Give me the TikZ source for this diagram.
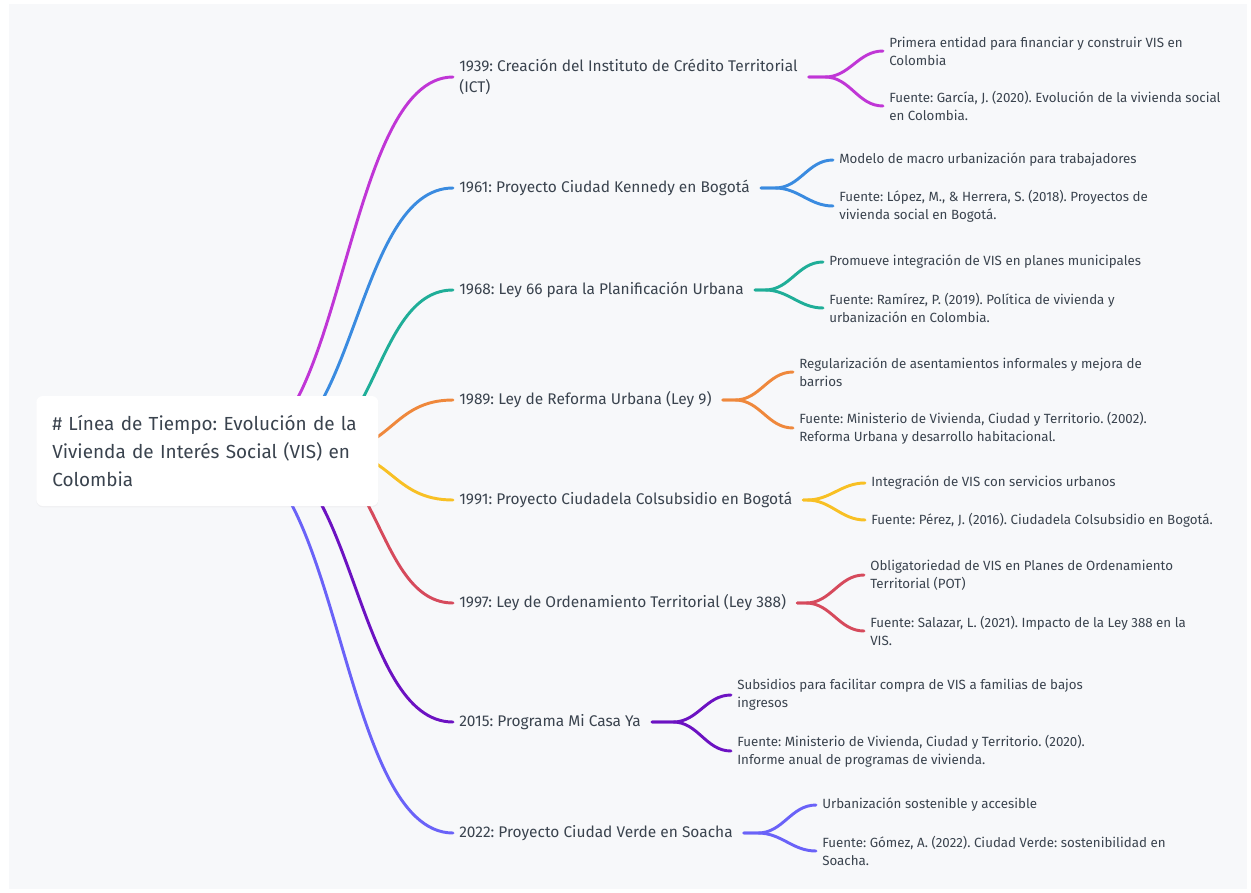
\documentclass[tikz,border=0pt]{standalone}
\usepackage{fontspec}
\setmainfont{Fira Sans}
\frenchspacing
\usetikzlibrary{calc,shadows}
\definecolor{txt}{HTML}{3A434E}
\definecolor{bgc}{HTML}{F7F8FA}
\definecolor{cA}{HTML}{C036D6}
\definecolor{cB}{HTML}{3A8BE0}
\definecolor{cC}{HTML}{1FAE98}
\definecolor{cD}{HTML}{EF883C}
\definecolor{cE}{HTML}{F8C024}
\definecolor{cF}{HTML}{D64A5C}
\definecolor{cG}{HTML}{6C12C2}
\definecolor{cH}{HTML}{6A62F8}
\pgfdeclarelayer{bg}
\pgfdeclarelayer{links}
\pgfsetlayers{bg,links,main}
\tikzset{
  rootbox/.style={draw=none, fill=white, rounded corners=5pt, anchor=west,
    minimum width=256.5pt, minimum height=82.5pt, text width=232.5pt,
    inner xsep=12pt, inner ysep=0pt, align=left, text=txt,
    font=\fontsize{14.2}{21}\selectfont,
    drop shadow={shadow xshift=0pt, shadow yshift=-1pt, opacity=0.06}},
  lvlone/.style={anchor=west, inner xsep=4.5pt, inner ysep=0pt, align=left,
    text=txt, font=\fontsize{11.6}{15.75}\selectfont},
  lvltwo/.style={anchor=west, inner xsep=4.5pt, inner ysep=0pt, align=left,
    text=txt, font=\fontsize{10}{13.5}\selectfont},
  link/.style={line width=2.2pt, line cap=round},
}
\newcommand{\sublink}[4]{%
  \draw[link,#1] ($(#2.east)+(5,0)$) -- ($(#3.west |- #2.east)+(-58,0)$) to[out=0,in=180] (#3.west);
  \draw[link,#1] ($(#2.east)+(5,0)$) -- ($(#4.west |- #2.east)+(-58,0)$) to[out=0,in=180] (#4.west);}
\begin{document}
\begin{tikzpicture}[x=0.75pt,y=-0.75pt]
\begin{pgfonlayer}{bg}
\fill[white] (0,0) rectangle (1251,892);
\fill[bgc] (9,4) rectangle (1247,889);
\end{pgfonlayer}
\useasboundingbox (0,0) rectangle (1251,892);

\node[rootbox] (root) at (36,451) {\# Línea de Tiempo: Evolución de la\\Vivienda de Interés Social (VIS) en\\Colombia};

\coordinate (s1) at (236,451);
\coordinate (s2) at (259,451);
\coordinate (s3) at (300,451);
\coordinate (s4) at (331,451);
\coordinate (s5) at (331,451);
\coordinate (s6) at (305,451);
\coordinate (s7) at (257,451);
\coordinate (s8) at (228,451);

\node[lvlone] (p1) at (453,77) {1939: Creación del Instituto de Crédito Territorial\\(ICT)};
\node[lvlone] (p2) at (453,188) {1961: Proyecto Ciudad Kennedy en Bogotá};
\node[lvlone] (p3) at (453,290) {1968: Ley 66 para la Planificación Urbana};
\node[lvlone] (p4) at (453,400) {1989: Ley de Reforma Urbana (Ley 9)};
\node[lvlone] (p5) at (453,500) {1991: Proyecto Ciudadela Colsubsidio en Bogotá};
\node[lvlone] (p6) at (453,603) {1997: Ley de Ordenamiento Territorial (Ley 388)};
\node[lvlone] (p7) at (453,722) {2015: Programa Mi Casa Ya};
\node[lvlone] (p8) at (453,833) {2022: Proyecto Ciudad Verde en Soacha};

\node[lvltwo] (c1a) at (883,51) {Primera entidad para financiar y construir VIS en\\Colombia};
\node[lvltwo] (c1b) at (883,106) {Fuente: García, J. (2020). Evolución de la vivienda social\\en Colombia.};
\node[lvltwo] (c2a) at (833,160) {Modelo de macro urbanización para trabajadores};
\node[lvltwo] (c2b) at (833,206) {Fuente: López, M., \& Herrera, S. (2018). Proyectos de\\vivienda social en Bogotá.};
\node[lvltwo] (c3a) at (823,262) {Promueve integración de VIS en planes municipales};
\node[lvltwo] (c3b) at (823,308) {Fuente: Ramírez, P. (2019). Política de vivienda y\\urbanización en Colombia.};
\node[lvltwo] (c4a) at (793,372) {Regularización de asentamientos informales y mejora de\\barrios};
\node[lvltwo] (c4b) at (793,428) {Fuente: Ministerio de Vivienda, Ciudad y Territorio. (2002).\\Reforma Urbana y desarrollo habitacional.};
\node[lvltwo] (c5a) at (865,483) {Integración de VIS con servicios urbanos};
\node[lvltwo] (c5b) at (865,520) {Fuente: Pérez, J. (2016). Ciudadela Colsubsidio en Bogotá.};
\node[lvltwo] (c6a) at (864,575) {Obligatoriedad de VIS en Planes de Ordenamiento\\Territorial (POT)};
\node[lvltwo] (c6b) at (864,631) {Fuente: Salazar, L. (2021). Impacto de la Ley 388 en la\\VIS.};
\node[lvltwo] (c7a) at (731,695) {Subsidios para facilitar compra de VIS a familias de bajos\\ingresos};
\node[lvltwo] (c7b) at (731,751) {Fuente: Ministerio de Vivienda, Ciudad y Territorio. (2020).\\Informe anual de programas de vivienda.};
\node[lvltwo] (c8a) at (816,805) {Urbanización sostenible y accesible};
\node[lvltwo] (c8b) at (816,851) {Fuente: Gómez, A. (2022). Ciudad Verde: sostenibilidad en\\Soacha.};

\begin{pgfonlayer}{links}
\draw[link,cA] (s1) .. controls (344.5,451) and (344.5,77) .. (p1.west);
\draw[link,cB] (s2) .. controls (356,451) and (356,188) .. (p2.west);
\draw[link,cC] (s3) .. controls (376.5,451) and (376.5,290) .. (p3.west);
\draw[link,cD] (s4) .. controls (392,451) and (392,400) .. (p4.west);
\draw[link,cE] (s5) .. controls (392,451) and (392,500) .. (p5.west);
\draw[link,cF] (s6) .. controls (379,451) and (379,603) .. (p6.west);
\draw[link,cG] (s7) .. controls (355,451) and (355,722) .. (p7.west);
\draw[link,cH] (s8) .. controls (340.5,451) and (340.5,833) .. (p8.west);
\sublink{cA}{p1}{c1a}{c1b}
\sublink{cB}{p2}{c2a}{c2b}
\sublink{cC}{p3}{c3a}{c3b}
\sublink{cD}{p4}{c4a}{c4b}
\sublink{cE}{p5}{c5a}{c5b}
\sublink{cF}{p6}{c6a}{c6b}
\sublink{cG}{p7}{c7a}{c7b}
\sublink{cH}{p8}{c8a}{c8b}
\end{pgfonlayer}
\end{tikzpicture}
\end{document}
